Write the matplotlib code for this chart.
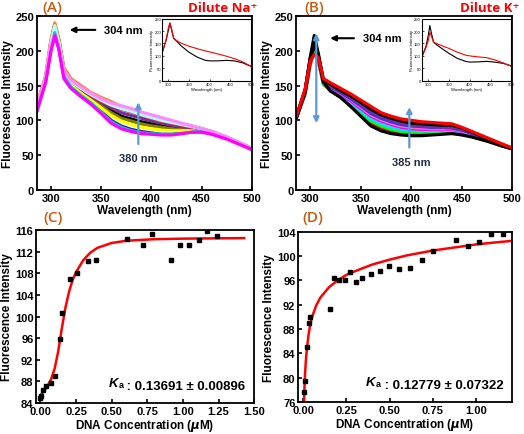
import numpy as np
import matplotlib.pyplot as plt

plt.rcParams['font.family'] = ['Liberation Sans', 'DejaVu Sans']
plt.rcParams['font.weight'] = 'bold'
plt.rcParams['axes.labelweight'] = 'bold'

wl = [286, 295, 300, 304, 308, 313, 320, 330, 340, 350, 360, 370,
      380, 390, 400, 410, 420, 430, 440, 450, 460, 475, 490, 500]

# (A) dilute Na+ spectra (drawn in this order, last on top)
na_colors = ['#000070', '#2a2ab0', '#000000', '#7f7f00', '#7030a0', '#ffff00',
             '#ff2020', '#ff7f27', '#aaffff', '#00cccc', '#ff88ff', '#ff00ff']
na_spectra = [
    [120, 163, 212, 238, 215, 173, 157, 147, 138, 130, 123, 118, 114, 109, 105, 101, 98, 94, 91, 88, 83, 75, 66, 59],
    [114, 158, 204, 229, 207, 164, 149, 137, 126, 114, 100, 92, 87, 84, 82, 80, 80, 82, 84, 84, 81, 74, 65, 58],
    [116, 160, 207, 234, 210, 169, 154, 142, 132, 123, 114, 106, 102, 98, 95, 92, 90, 89, 88, 87, 83, 75, 66, 59],
    [116, 159, 206, 232, 209, 168, 153, 141, 131, 121, 111, 103, 99, 95, 92, 90, 88, 87, 87, 86, 83, 75, 66, 59],
    [117, 161, 208, 235, 211, 170, 155, 144, 134, 126, 118, 111, 107, 103, 99, 96, 93, 91, 89, 88, 84, 76, 66, 59],
    [115, 158, 205, 230, 208, 166, 151, 139, 129, 118, 107, 99, 94, 90, 88, 86, 85, 85, 85, 85, 82, 75, 65, 59],
    [118, 160, 210, 236, 212, 170, 156, 146, 136, 128, 121, 116, 112, 107, 103, 99, 96, 93, 90, 87, 83, 75, 65, 59],
    [121, 165, 215, 240, 218, 176, 160, 150, 140, 133, 127, 120, 116, 111, 107, 103, 99, 95, 92, 88, 83, 75, 66, 59],
    [118, 162, 210, 236, 212, 171, 156, 146, 137, 129, 122, 117, 113, 108, 104, 100, 97, 94, 91, 88, 84, 76, 66, 59],
    [113, 157, 202, 226, 205, 163, 148, 136, 125, 112, 98, 90, 85, 82, 81, 80, 80, 81, 83, 84, 81, 74, 65, 58],
    [119, 162, 208, 222, 205, 172, 158, 148, 139, 131, 125, 121, 117, 112, 108, 104, 100, 96, 92, 88, 84, 76, 66, 59],
    [112, 155, 198, 222, 202, 160, 146, 134, 123, 110, 96, 88, 84, 81, 80, 79, 79, 81, 83, 83, 80, 73, 64, 58],
]

# (B) dilute K+ spectra, bottom band to top band
k_colors = ['#ff0000', '#00ff00', '#00e5ee', '#ff00ff', '#ff66cc',
            '#3030ff', '#7030a0', '#000000', '#000000', '#ff0000']
k_spectra = [
    [102, 138, 180, 200, 185, 152, 143, 133, 121, 108, 95, 88, 84, 81, 80, 80, 80, 81, 82, 80, 77, 71, 63, 59],
    [103, 140, 183, 205, 188, 153, 144, 134, 123, 111, 99, 92, 87, 84, 83, 83, 83, 84, 84, 82, 78, 71, 64, 59],
    [103, 141, 185, 208, 190, 154, 145, 136, 125, 114, 102, 95, 90, 87, 86, 85, 85, 85, 85, 83, 79, 72, 64, 59],
    [103, 141, 186, 210, 191, 155, 146, 138, 128, 117, 106, 99, 94, 90, 88, 87, 87, 87, 87, 84, 80, 72, 64, 59],
    [104, 142, 187, 212, 192, 156, 147, 139, 130, 119, 108, 101, 96, 92, 90, 89, 88, 88, 88, 85, 80, 73, 64, 59],
    [104, 143, 188, 214, 193, 156, 148, 140, 131, 121, 110, 103, 98, 94, 92, 91, 90, 90, 89, 86, 81, 73, 65, 59],
    [104, 143, 189, 215, 194, 157, 149, 141, 133, 123, 112, 105, 100, 96, 93, 92, 91, 90, 90, 87, 82, 73, 65, 59],
    [102, 140, 185, 210, 190, 155, 142, 133, 120, 106, 92, 85, 81, 79, 78, 78, 79, 80, 81, 79, 76, 70, 63, 59],
    [104, 144, 190, 222, 196, 158, 152, 143, 135, 126, 116, 108, 103, 99, 96, 95, 94, 93, 93, 89, 83, 74, 65, 60],
    [105, 145, 185, 195, 190, 160, 154, 146, 138, 129, 120, 111, 106, 102, 100, 98, 97, 96, 95, 90, 84, 75, 66, 60],
]

# insets: first (black) and last (red) spectra
inset_wl = [286, 295, 300, 304, 308, 313, 320, 330, 350, 370, 390, 400, 420, 440, 460, 480, 500]
na_inset_black = [115, 165, 200, 232, 205, 170, 160, 142, 115, 95, 82, 80, 80, 82, 80, 72, 58]
na_inset_red = [118, 165, 210, 232, 210, 172, 162, 152, 139, 129, 120, 116, 108, 99, 89, 76, 58]
k_inset_black = [100, 140, 180, 222, 190, 155, 145, 133, 110, 90, 78, 75, 76, 78, 75, 70, 60]
k_inset_red = [100, 135, 160, 195, 178, 155, 150, 143, 130, 115, 103, 100, 96, 93, 84, 72, 58]

# (C) titration, Na+
na_conc = [0.0, 0.002, 0.019, 0.042, 0.075, 0.105, 0.136, 0.152, 0.21, 0.257, 0.332,
           0.393, 0.609, 0.72, 0.78, 0.914, 0.98, 1.045, 1.11, 1.17, 1.237]
na_int = [85.0, 85.3, 86.5, 87.1, 87.8, 89.0, 95.9, 100.6, 106.9, 108.0, 110.3,
          110.4, 114.3, 113.3, 115.2, 110.4, 113.2, 113.2, 114.1, 115.9, 114.9]
na_fit_x = [0.0, 0.025, 0.05, 0.075, 0.1, 0.125, 0.15, 0.175, 0.2, 0.225, 0.25, 0.3,
            0.35, 0.4, 0.5, 0.6, 0.8, 1.0, 1.2, 1.43]
na_fit_y = [85.5, 86.2, 87.2, 88.4, 90.4, 93.6, 97.8, 101.6, 104.5, 106.7, 108.2, 110.4,
            111.8, 112.7, 113.6, 114.0, 114.3, 114.4, 114.45, 114.5]

# (D) titration, K+
k_conc = [0.004, 0.01, 0.023, 0.035, 0.04, 0.152, 0.178, 0.208, 0.239, 0.27, 0.305,
          0.34, 0.392, 0.444, 0.498, 0.552, 0.62, 0.687, 0.753, 0.886, 0.954, 1.021,
          1.089, 1.156]
k_int = [77.6, 79.4, 85.0, 89.0, 90.0, 91.2, 96.3, 96.1, 96.1, 97.3, 95.8,
         96.3, 97.0, 97.6, 98.3, 97.8, 98.1, 99.3, 100.8, 102.6, 101.7, 102.3,
         103.7, 103.6]
k_fit_x = [0.004, 0.007, 0.01, 0.015, 0.02, 0.03, 0.04, 0.05, 0.075, 0.1, 0.15, 0.2,
           0.25, 0.3, 0.4, 0.5, 0.6, 0.75, 0.9, 1.0, 1.1, 1.21]
k_fit_y = [76.0, 78.5, 80.7, 82.9, 84.5, 87.0, 88.7, 89.9, 91.9, 93.2, 94.9, 96.0,
           96.9, 97.5, 98.6, 99.4, 100.1, 100.9, 101.5, 101.9, 102.2, 102.5]

panel_color = '#c55a11'
arrow_blue = '#5b9bd5'

fig = plt.figure(figsize=(5.24, 4.35), dpi=100)
axA = fig.add_axes([0.070, 0.561, 0.411, 0.400])
axB = fig.add_axes([0.565, 0.561, 0.413, 0.400])
axC = fig.add_axes([0.069, 0.071, 0.416, 0.398])
axD = fig.add_axes([0.569, 0.074, 0.408, 0.391])


def style(ax):
    ax.tick_params(direction='in', length=3, width=1.2, labelsize=8, pad=2)
    for s in ax.spines.values():
        s.set_linewidth(1.3)
    for lab in ax.get_xticklabels() + ax.get_yticklabels():
        lab.set_fontweight('bold')


for ax, spectra, colors in [(axA, na_spectra, na_colors), (axB, k_spectra, k_colors)]:
    for vals, c in zip(spectra, colors):
        ax.plot(wl, vals, color=c, lw=2.3, solid_joinstyle='round')
    ax.set_xlim(286, 500)
    ax.set_ylim(0, 250)
    ax.set_xticks([300, 350, 400, 450, 500])
    ax.set_yticks([0, 50, 100, 150, 200, 250])
    ax.set_xlabel('Wavelength (nm)', fontsize=8.5, labelpad=1)
    ax.set_ylabel('Fluorescence Intensity', fontsize=8.5, labelpad=1)
    style(ax)

# annotations (A)
axA.annotate('', xy=(316, 230), xytext=(347, 230),
             arrowprops=dict(arrowstyle='-|>', color='black', lw=1.5, mutation_scale=8))
axA.text(353, 230, '304 nm', fontsize=8, va='center', ha='left')
axA.annotate('', xy=(387, 130), xytext=(387, 62),
             arrowprops=dict(arrowstyle='-|>', color=arrow_blue, lw=1.6, mutation_scale=8))
axA.text(387, 46, '380 nm', fontsize=8, va='center', ha='center', color='#1f2a44')

# annotations (B)
axB.annotate('', xy=(317, 218), xytext=(346, 218),
             arrowprops=dict(arrowstyle='-|>', color='black', lw=1.5, mutation_scale=8))
axB.text(352, 218, '304 nm', fontsize=8, va='center', ha='left')
axB.annotate('', xy=(306, 229), xytext=(306, 92),
             arrowprops=dict(arrowstyle='<|-|>', color=arrow_blue, lw=1.6, mutation_scale=8))
axB.annotate('', xy=(398, 123), xytext=(398, 57),
             arrowprops=dict(arrowstyle='-|>', color=arrow_blue, lw=1.6, mutation_scale=8))
axB.text(400, 40, '385 nm', fontsize=8, va='center', ha='center', color='#1f2a44')

# insets
for rect, black, red in [([0.310, 0.812, 0.169, 0.143], na_inset_black, na_inset_red),
                         ([0.806, 0.812, 0.170, 0.143], k_inset_black, k_inset_red)]:
    ins = fig.add_axes(rect)
    ins.plot(inset_wl, black, color='black', lw=0.8)
    ins.plot(inset_wl, red, color='red', lw=0.8)
    ins.set_xlim(286, 500)
    ins.set_ylim(0, 250)
    ins.set_xticks([300, 350, 400, 450, 500])
    ins.set_yticks([0, 50, 100, 150, 200, 250])
    ins.tick_params(direction='in', length=1.5, width=0.5, labelsize=3, pad=1)
    ins.set_xlabel('Wavelength (nm)', fontsize=3, labelpad=0.5, fontweight='normal')
    ins.set_ylabel('Fluorescence Intensity', fontsize=3, labelpad=0.5, fontweight='normal')
    for lab in ins.get_xticklabels() + ins.get_yticklabels():
        lab.set_fontweight('normal')
    for s in ins.spines.values():
        s.set_linewidth(0.8)

# (C) and (D)
for ax, x, y, fx, fy, xlim, ylim, xt, yt, kval in [
        (axC, na_conc, na_int, na_fit_x, na_fit_y, (-0.03, 1.5), (84, 116),
         [0, 0.25, 0.5, 0.75, 1.0, 1.25, 1.5], range(84, 117, 4), ' : 0.13691 ± 0.00896'),
        (axD, k_conc, k_int, k_fit_x, k_fit_y, (-0.03, 1.21), (76, 104),
         [0, 0.25, 0.5, 0.75, 1.0], range(76, 105, 4), ' : 0.12779 ± 0.07322')]:
    ax.plot(fx, fy, color='red', lw=1.8)
    ax.plot(x, y, 's', color='black', ms=3.2)
    ax.set_xlim(*xlim)
    ax.set_ylim(*ylim)
    ax.set_xticks(xt)
    ax.set_xticklabels([f'{v:.2f}' for v in xt])
    ax.set_yticks(list(yt))
    ax.set_xlabel(r'DNA Concentration ($\mu$M)', fontsize=8.5, labelpad=1)
    ax.set_ylabel('Fluorescence Intensity', fontsize=8.5, labelpad=1)
    style(ax)
    main = ax.text(0.96, 0.10, kval, transform=ax.transAxes, fontsize=9.5,
                   ha='right', va='center', fontweight='bold')
    sub = ax.annotate('a', xy=(0, 0.25), xycoords=main, fontsize=6.5,
                      ha='right', va='bottom', fontweight='bold')
    ax.annotate('K', xy=(0, 0), xycoords=sub, fontsize=9.5, ha='right', va='bottom',
                fontweight='bold', fontstyle='italic')

# panel labels and titles
for x, y, s in [(52, 8, '(A)'), (314, 8, '(B)'), (53, 218, '(C)'), (313, 218, '(D)')]:
    fig.text(x / 524, 1 - y / 435, s, color=panel_color, fontsize=11,
             ha='center', va='center', family=['Open Sans', 'DejaVu Sans'], fontweight='semibold')
fig.text(258 / 524, 1 - 8 / 435, 'Dilute Na⁺', color='#ff0000', fontsize=9.5,
         ha='right', va='center', family=['Open Sans', 'DejaVu Sans'], fontweight='bold')
fig.text(519 / 524, 1 - 8 / 435, 'Dilute K⁺', color='#ff0000', fontsize=9.5,
         ha='right', va='center', family=['Open Sans', 'DejaVu Sans'], fontweight='bold')

fig.savefig('out.png', dpi=100)
